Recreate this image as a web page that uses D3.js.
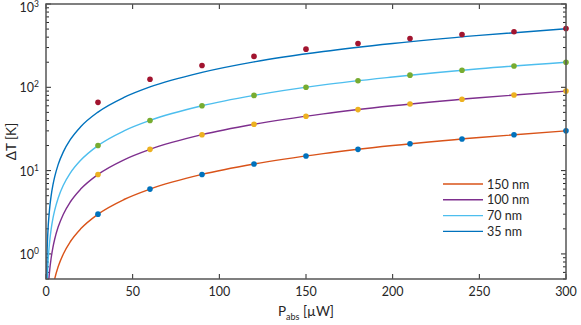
<!DOCTYPE html>
<html>
<head>
<meta charset="utf-8">
<script src="https://cdn.jsdelivr.net/npm/d3@7"></script>
<style>
  body { margin: 0; background: #fff; }
  text { font-family: Lato, "Open Sans", sans-serif; fill: #262626; }
</style>
</head>
<body>
<div id="chart"></div>
<script>
// measured points (P_abs in uW, dT in K)
var power = [30, 60, 90, 120, 150, 180, 210, 240, 270, 300];
var pts150 = [3, 6, 9, 12, 15, 18, 21, 24, 27, 30];
var pts100 = [9, 18, 27, 36, 45, 54, 63, 72, 81, 90];
var pts70 = [20, 40, 60, 80, 100, 120, 140, 160, 180, 200];
var pts35 = [66, 125, 183, 235, 287, 336, 386, 431, 465, 509];

// model curves
var lineP = [0.25, 0.5, 1, 2, 3, 4, 5, 7, 10, 14, 20, 30, 45, 60, 90, 120, 160, 200, 250, 300];
var line150 = [0.025, 0.05, 0.1, 0.2, 0.3, 0.4, 0.5, 0.7, 1, 1.4, 2, 3, 4.5, 6, 9, 12, 16, 20, 25, 30];
var line100 = [0.075, 0.15, 0.3, 0.6, 0.9, 1.2, 1.5, 2.1, 3, 4.2, 6, 9, 13.5, 18, 27, 36, 48, 60, 75, 90];
var line70 = [0.17, 0.33, 0.67, 1.33, 2, 2.67, 3.33, 4.67, 6.67, 9.33, 13.3, 20, 30, 40, 60, 80, 107, 133, 167, 200];
var line35 = [0.42, 0.84, 1.68, 3.36, 5.04, 6.72, 8.4, 11.8, 16.8, 23.5, 33.6, 50.4, 75.6, 101, 151, 202, 269, 336, 420, 504];

var legendLabels = ["150 nm", "100 nm", "70 nm", "35 nm"];
var xTicks = [0, 50, 100, 150, 200, 250, 300];
var yDecades = [1, 10, 100, 1000];

var series = [
    {name: legendLabels[0], line: line150, pts: pts150, lc: "#D95319", pc: "#0072BD"},
    {name: legendLabels[1], line: line100, pts: pts100, lc: "#7E2F8E", pc: "#EDB120"},
    {name: legendLabels[2], line: line70, pts: pts70, lc: "#4DBEEE", pc: "#77AC30"},
    {name: legendLabels[3], line: line35, pts: pts35, lc: "#0072BD", pc: "#A2142F"}
];

var W = 581, H = 325;
var margin = {top: 4, right: 15, bottom: 46, left: 46};
var width = W - margin.left - margin.right,
    height = H - margin.top - margin.bottom;

var x = d3.scaleLinear().domain([0, 300]).range([0, width]);
var y = d3.scaleLog().domain([0.5, 1000]).range([height, 0]);

var svg = d3.select("#chart").append("svg")
    .attr("width", W)
    .attr("height", H);

svg.append("defs").append("clipPath")
    .attr("id", "clip")
    .append("rect")
    .attr("width", width)
    .attr("height", height);

var main = svg.append("g")
    .attr("transform", "translate(" + margin.left + "," + margin.top + ")");

// minor ticks for log axis
var minorY = [];
[0.1, 1, 10, 100].forEach(function (d) {
    for (var k = 2; k <= 9; k++) {
        var v = d * k;
        if (v >= 0.5 && v <= 1000) minorY.push(v);
    }
});

var tickColor = "#262626";
var ticks = main.append("g");
xTicks.forEach(function (t) {
    ticks.append("line").attr("x1", x(t)).attr("x2", x(t)).attr("y1", height).attr("y2", height - 5);
    ticks.append("line").attr("x1", x(t)).attr("x2", x(t)).attr("y1", 0).attr("y2", 5);
});
yDecades.forEach(function (t) {
    ticks.append("line").attr("x1", 0).attr("x2", 5).attr("y1", y(t)).attr("y2", y(t));
    ticks.append("line").attr("x1", width).attr("x2", width - 5).attr("y1", y(t)).attr("y2", y(t));
});
minorY.forEach(function (t) {
    ticks.append("line").attr("x1", 0).attr("x2", 3).attr("y1", y(t)).attr("y2", y(t));
    ticks.append("line").attr("x1", width).attr("x2", width - 3).attr("y1", y(t)).attr("y2", y(t));
});
ticks.selectAll("line").attr("stroke", tickColor).attr("stroke-width", 1);

// tick labels
main.selectAll(".xlab")
    .data(xTicks)
    .enter().append("text")
    .attr("x", function (d) { return x(d); })
    .attr("y", height + 17)
    .attr("text-anchor", "middle")
    .style("font-size", "12.5px")
    .text(function (d) { return d; });

var ylab = main.selectAll(".ylab")
    .data(yDecades)
    .enter().append("text")
    .attr("x", -7)
    .attr("y", function (d) { return Math.max(y(d) + 5, 8); })
    .attr("text-anchor", "end")
    .style("font-size", "12.5px");
ylab.append("tspan").text("10");
ylab.append("tspan")
    .attr("dy", -5)
    .style("font-size", "8.5px")
    .text(function (d) { return Math.round(Math.log10(d)); });

// curves
var line = d3.line()
    .x(function (d) { return x(d[0]); })
    .y(function (d) { return y(d[1]); })
    .curve(d3.curveMonotoneX);

var plot = main.append("g").attr("clip-path", "url(#clip)");

series.forEach(function (s) {
    plot.append("path")
        .datum(lineP.map(function (p, i) { return [p, s.line[i]]; }))
        .attr("fill", "none")
        .attr("stroke", s.lc)
        .attr("stroke-width", 1.4)
        .attr("d", line);
});

series.forEach(function (s) {
    main.append("g").selectAll("circle")
        .data(power.map(function (p, i) { return [p, s.pts[i]]; }))
        .enter().append("circle")
        .attr("cx", function (d) { return x(d[0]); })
        .attr("cy", function (d) { return y(d[1]); })
        .attr("r", 2.8)
        .attr("fill", s.pc);
});

// frame
main.append("rect")
    .attr("width", width)
    .attr("height", height)
    .attr("fill", "none")
    .attr("stroke", "#555")
    .attr("stroke-width", 1.5);

// legend
var legend = main.append("g").attr("transform", "translate(397,180)");
series.forEach(function (s, i) {
    var row = legend.append("g").attr("transform", "translate(0," + (i * 15.8) + ")");
    row.append("line")
        .attr("x1", 0).attr("x2", 40)
        .attr("stroke", s.lc)
        .attr("stroke-width", 1.4);
    row.append("text")
        .attr("x", 44)
        .attr("y", 4.5)
        .style("font-size", "12.5px")
        .text(s.name);
});

// axis titles
var xt = svg.append("text")
    .attr("x", margin.left + width / 2)
    .attr("y", 316)
    .attr("text-anchor", "middle")
    .style("font-size", "13.5px");
xt.append("tspan").text("P");
xt.append("tspan").attr("dy", 4).style("font-size", "9px").text("abs");
xt.append("tspan").attr("dy", -4).text(" [\u00B5W]");

svg.append("text")
    .attr("transform", "translate(16," + (margin.top + height / 2) + ") rotate(-90)")
    .attr("text-anchor", "middle")
    .style("font-size", "13.5px")
    .text("\u0394T [K]");
</script>
</body>
</html>
